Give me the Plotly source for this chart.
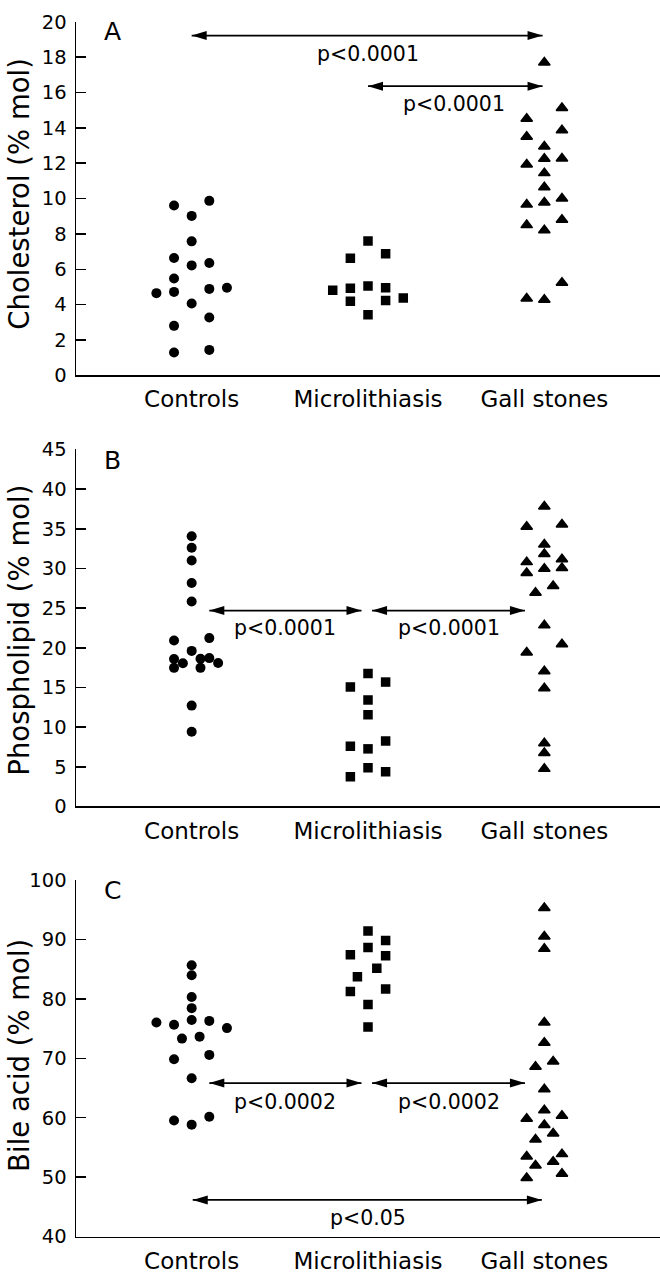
import plotly.graph_objects as go

# ---------------- data ----------------
categories = ["Controls", "Microlithiasis", "Gall stones"]

chol_controls = [4.65, 9.61, 6.64, 5.48, 4.72, 2.80, 1.29, 9.02, 7.58, 6.22, 4.06,
                 9.87, 6.36, 4.89, 3.27, 1.44, 4.96]
chol_micro = [4.81, 6.62, 4.92, 4.19, 7.60, 5.06, 3.43, 6.88, 4.96, 4.24, 4.37]
chol_gall = [14.52, 13.50, 11.93, 9.66, 8.50, 4.35, 17.70, 12.95, 12.25, 11.44,
             10.64, 9.78, 8.21, 4.28, 15.13, 13.87, 12.27, 10.0, 8.80, 5.24]

phos_controls = [34.06, 32.61, 31.0, 28.16, 25.84, 19.61, 12.71, 9.41, 20.93, 18.58,
                 17.47, 18.04, 18.62, 17.47, 21.22, 18.70, 18.09]
phos_micro = [15.06, 7.59, 3.75, 16.76, 13.42, 11.56, 7.26, 4.87, 15.68, 8.25, 4.37]
phos_gall = [37.82, 33.03, 31.83, 29.97, 22.83, 17.05, 14.9, 7.96, 6.73, 4.74,
             35.26, 30.8, 29.44, 19.40, 35.55, 31.17, 30.05, 20.44, 26.95, 27.78]

bile_controls = [85.67, 83.97, 80.33, 78.45, 76.46, 66.66, 58.84, 76.03, 75.64, 69.85,
                 59.55, 76.30, 70.58, 60.17, 75.09, 73.32, 73.65]
bile_micro = [91.45, 88.64, 79.06, 75.26, 87.44, 81.26, 89.85, 87.27, 81.65, 83.74, 85.17]
bile_gall = [95.31, 90.51, 88.43, 76.03, 72.61, 64.79, 61.26, 58.78, 68.60, 56.36,
             51.95, 69.47, 57.36, 52.61, 59.83, 53.49, 49.85, 60.33, 53.88, 50.58]

# column (jitter slot) of each point inside its group, in the same order as the values
chol_controls_col = [-2, -1, -1, -1, -1, -1, -1, 0, 0, 0, 0, 1, 1, 1, 1, 1, 2]
chol_micro_col = [-2, -1, -1, -1, 0, 0, 0, 1, 1, 1, 2]
chol_gall_col = [-1] * 6 + [0] * 8 + [1] * 6

phos_controls_col = [0] * 8 + [-1, -1, -1, -0.5, 0.5, 0.5, 1, 1, 1.5]
phos_micro_col = [-1, -1, -1, 0, 0, 0, 0, 0, 1, 1, 1]
phos_gall_col = [0] * 10 + [-1] * 4 + [1] * 4 + [-0.5, 0.5]

bile_controls_col = [0] * 7 + [-2] + [-1] * 3 + [1] * 3 + [2] + [-0.55, 0.45]
bile_micro_col = [0, 0, 0, 0, -1, -1, 1, 1, 1, -0.6, 0.5]
bile_gall_col = [0] * 8 + [-0.5] * 3 + [0.5] * 3 + [-1] * 3 + [1] * 3

y_titles = ["Cholesterol (% mol)", "Phospholipid (% mol)", "Bile acid (% mol)"]
panel_letters = ["A", "B", "C"]
y_ranges = [[0, 20], [0, 45], [40, 100]]
y_dticks = [2, 5, 10]

# significance comparisons: (panel, x_from, x_to, y_arrow, label, label_x, label_y)
comparisons = [
    (0, 0.0, 1.99, 19.22, "p<0.0001", 1.0, 18.17),
    (0, 1.0, 1.99, 16.36, "p<0.0001", 1.49, 15.35),
    (1, 0.10, 0.963, 24.69, "p<0.0001", 0.532, 22.54),
    (1, 1.023, 1.89, 24.69, "p<0.0001", 1.459, 22.54),
    (2, 0.10, 0.963, 65.83, "p<0.0002", 0.532, 62.69),
    (2, 1.023, 1.89, 65.83, "p<0.0002", 1.459, 62.69),
    (2, 0.006, 1.986, 46.17, "p<0.05", 1.0, 43.14),
]

# ---------------- style ----------------
FONT = "DejaVu Sans, Liberation Sans, Arial, sans-serif"
STEP = 0.1
symbols = ["circle", "square", "triangle-up"]
sizes = [10, 9.5, 10]
line_w = [0, 0, 1.5]
domains = [[1 - 371 / 1280, 1 - 11 / 1280],
           [1 - 810 / 1280, 1 - 446.5 / 1280],
           [1 - 1248 / 1280, 1 - 885 / 1280]]
title_centers_px = [186, 631, 1064]
letter_y = [19.46, 43.6, 98.3]
HEAD_L, HEAD_H = 15, 4.5

panels = [
    [(chol_controls, chol_controls_col), (chol_micro, chol_micro_col), (chol_gall, chol_gall_col)],
    [(phos_controls, phos_controls_col), (phos_micro, phos_micro_col), (phos_gall, phos_gall_col)],
    [(bile_controls, bile_controls_col), (bile_micro, bile_micro_col), (bile_gall, bile_gall_col)],
]

fig = go.Figure()
layout = dict(
    width=660, height=1280, margin=dict(l=0, r=0, t=0, b=0),
    paper_bgcolor="white", plot_bgcolor="white", showlegend=False,
    font=dict(family=FONT, color="black"),
)
annotations = []
shapes = []

for p, groups in enumerate(panels):
    sfx = "" if p == 0 else str(p + 1)
    for g, (vals, cols) in enumerate(groups):
        fig.add_trace(go.Scatter(
            x=[g + c * STEP for c in cols], y=vals, mode="markers",
            marker=dict(symbol=symbols[g], size=sizes[g], color="black",
                        line=dict(width=line_w[g], color="black")),
            xaxis="x" + sfx, yaxis="y" + sfx, hoverinfo="skip",
        ))
    layout["xaxis" + sfx] = dict(
        domain=[76 / 660, 1], range=[-0.656, 2.656], anchor="y" + sfx,
        tickvals=[0, 1, 2], ticktext=categories, ticks="", showline=True,
        linecolor="black", linewidth=1.5, showgrid=False, zeroline=False,
        tickfont=dict(size=23, family=FONT, color="black"), ticklabelstandoff=3,
    )
    layout["yaxis" + sfx] = dict(
        domain=domains[p], range=y_ranges[p], dtick=y_dticks[p], anchor="x" + sfx,
        ticks="inside", ticklen=10, tickwidth=1.5, tickcolor="black",
        showline=True, linecolor="black", linewidth=1.5, showgrid=False,
        zeroline=False, tickfont=dict(size=19.5, family=FONT, color="black"),
        ticklabelstandoff=4,
    )
    annotations.append(dict(
        text=y_titles[p], xref="paper", yref="paper", x=19 / 660,
        y=1 - title_centers_px[p] / 1280, textangle=-90, showarrow=False,
        xanchor="center", yanchor="middle",
        font=dict(size=27.5, family=FONT, color="black"),
    ))
    annotations.append(dict(
        text=panel_letters[p], xref="x" + sfx, yref="y" + sfx, x=-0.448,
        y=letter_y[p], showarrow=False, xanchor="center", yanchor="middle",
        font=dict(size=25, family=FONT, color="black"),
    ))

for (p, x0, x1, ya, lab, lx, ly) in comparisons:
    sfx = "" if p == 0 else str(p + 1)
    xr, yr = "x" + sfx, "y" + sfx
    shapes.append(dict(type="line", xref=xr, yref=yr, x0=x0, x1=x1, y0=ya, y1=ya,
                       line=dict(color="black", width=1.7)))
    shapes.append(dict(type="path", xref=xr, yref=yr, xsizemode="pixel",
                       ysizemode="pixel", xanchor=x1, yanchor=ya,
                       path=f"M0,0 L{-HEAD_L},{HEAD_H} L{-HEAD_L},{-HEAD_H} Z",
                       fillcolor="black", line=dict(width=0)))
    shapes.append(dict(type="path", xref=xr, yref=yr, xsizemode="pixel",
                       ysizemode="pixel", xanchor=x0, yanchor=ya,
                       path=f"M0,0 L{HEAD_L},{HEAD_H} L{HEAD_L},{-HEAD_H} Z",
                       fillcolor="black", line=dict(width=0)))
    annotations.append(dict(
        x=lx, y=ly, xref=xr, yref=yr, text=lab, showarrow=False,
        xanchor="center", yanchor="middle",
        font=dict(size=20.5, family=FONT, color="black"),
    ))

layout["annotations"] = annotations
layout["shapes"] = shapes
fig.update_layout(**layout)
fig.write_html("out.html",
               config={"displayModeBar": False, "staticPlot": True},
               post_script="document.body.style.margin='0px';"
                           "document.body.style.overflow='hidden';")
